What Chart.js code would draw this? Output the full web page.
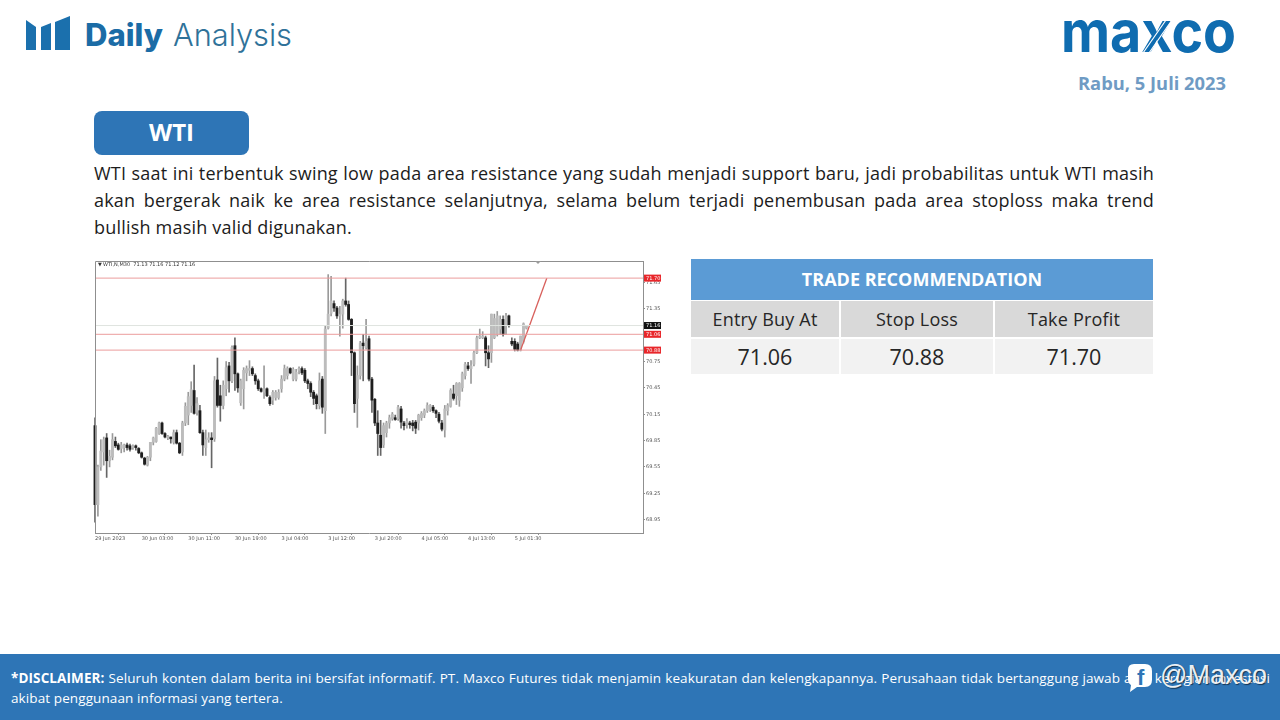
<!DOCTYPE html>
<html>
<head>
<meta charset="utf-8">
<title>Daily Analysis WTI</title>
<script src="https://cdn.jsdelivr.net/npm/chart.js@4"></script>
<style>
  html, body { margin: 0; padding: 0; background: #fff; }
  body { width: 1280px; height: 720px; position: relative; overflow: hidden; font-family: "Open Sans", sans-serif; }
  #logos { position: absolute; left: 0; top: 0; }
  #wtiBtn { position: absolute; left: 94px; top: 111px; width: 155px; height: 44px; border-radius: 8px; background: #2e75b6;
            color: #fff; font-weight: 700; font-size: 24px; line-height: 42px; text-align: center; }
  .line { position: absolute; left: 94px; width: 1060px; font-size: 18px; letter-spacing: 0.2px; line-height: 27px; color: #1c1c1c; white-space: nowrap; }
  .just { text-align: justify; text-align-last: justify; white-space: normal; }
  #chartBox { position: absolute; left: 93px; top: 257px; width: 577px; height: 288px; }
  .cell { position: absolute; text-align: center; color: #262626; }
  #footer { position: absolute; left: 0; top: 654px; width: 1280px; height: 66px; background: #2e75b6; color: #fff; }
  .foot { position: absolute; left: 11px; font-size: 13.5px; letter-spacing: 0.1px; line-height: 20px; white-space: nowrap; }
  #mark { position: absolute; left: 1160px; top: 658px; font-family: "Liberation Sans", sans-serif; font-size: 27px; line-height: 34px;
          color: rgba(255,255,255,0.92); text-shadow: 1px 1px 1px rgba(0,0,0,.55); }
</style>
</head>
<body>

<svg id="logos" width="1280" height="110">
  <!-- bar icon -->
  <polygon points="26,20 36,27 36,50 26,50" fill="#1b70ad"/>
  <polygon points="41,27 51,23 51,50 41,50" fill="#1b70ad"/>
  <polygon points="55,22 70,16 70,50 55,50" fill="#1b70ad"/>
  <text x="85" y="46" font-family="Inter" font-weight="800" font-size="31" fill="#1b6ca6" textLength="78" lengthAdjust="spacingAndGlyphs">Daily</text>
  <text x="173" y="46" font-family="Inter" font-weight="300" font-size="31" fill="#2f7299" textLength="119" lengthAdjust="spacingAndGlyphs">Analysis</text>
  <text x="1061" y="52" font-family="Inter" font-weight="700" font-size="57" fill="#0f6cb0" textLength="175" lengthAdjust="spacingAndGlyphs">maxco</text>
  <line x1="1143" y1="53" x2="1166" y2="20" stroke="#fff" stroke-width="1.2"/>
  <line x1="1149" y1="53" x2="1172" y2="20" stroke="#fff" stroke-width="1.2"/>
  <text x="1078" y="90" font-family="Open Sans" font-weight="700" font-size="18" fill="#6f9bc4" textLength="148" lengthAdjust="spacingAndGlyphs">Rabu, 5 Juli 2023</text>
</svg>

<div id="wtiBtn">WTI</div>

<div class="line just" style="top:160px">WTI saat ini terbentuk swing low pada area resistance yang sudah menjadi support baru, jadi probabilitas untuk WTI masih</div>
<div class="line just" style="top:187px">akan bergerak naik ke area resistance selanjutnya, selama belum terjadi penembusan pada area stoploss maka trend</div>
<div class="line" style="top:214px">bullish masih valid digunakan.</div>

<div id="chartBox"><canvas id="candleChart" width="577" height="288"></canvas></div>

<div class="cell" style="left:691px;top:259px;width:462px;height:41px;line-height:41px;background:#5b9bd5;color:#fff;font-weight:700;font-size:18px">TRADE RECOMMENDATION</div>
<div class="cell" style="left:691px;top:301px;width:148px;height:36px;line-height:36px;background:#d9d9d9;font-size:18px;letter-spacing:.2px">Entry Buy At</div>
<div class="cell" style="left:841px;top:301px;width:152px;height:36px;line-height:36px;background:#d9d9d9;font-size:18px;letter-spacing:.2px">Stop Loss</div>
<div class="cell" style="left:995px;top:301px;width:158px;height:36px;line-height:36px;background:#d9d9d9;font-size:18px;letter-spacing:.2px">Take Profit</div>
<div class="cell" style="left:691px;top:339px;width:148px;height:35px;line-height:35px;background:#f2f2f2;font-size:21.5px">71.06</div>
<div class="cell" style="left:841px;top:339px;width:152px;height:35px;line-height:35px;background:#f2f2f2;font-size:21.5px">70.88</div>
<div class="cell" style="left:995px;top:339px;width:158px;height:35px;line-height:35px;background:#f2f2f2;font-size:21.5px">71.70</div>

<div id="footer">
  <div class="foot just" style="top:14px;width:1259px"><b>*DISCLAIMER:</b> Seluruh konten dalam berita ini bersifat informatif. PT. Maxco Futures tidak menjamin keakuratan dan kelengkapannya. Perusahaan tidak bertanggung jawab atas kerugian investasi</div>
  <div class="foot" style="top:34px">akibat penggunaan informasi yang tertera.</div>
  <svg style="position:absolute;left:1126px;top:8px" width="28" height="32">
    <path d="M8 2 H19 Q26 2 26 9 V18 Q26 25 19 25 H11 L4 30 L5 23 Q2 21 2 17 V8 Q2 2 8 2 Z" fill="#fff"/>
    <text x="11" y="23" font-family="Liberation Sans" font-weight="700" font-size="22" fill="#2e75b6">f</text>
  </svg>
  <div id="mark" style="top:4px">@Maxco</div>
</div>

<script>
// tiap candle M30
const opens = [70.02,69.12,69.55,69.72,69.88,69.62,69.66,69.84,69.80,69.76,69.77,69.80,69.79,69.77,69.79,69.76,69.71,69.65,69.57,69.66,
  69.83,69.84,69.93,70.05,69.93,69.88,69.89,69.83,69.94,69.82,69.72,70.05,70.14,70.25,70.42,70.17,70.19,69.94,69.77,69.86,
  69.88,69.87,70.54,70.36,70.25,70.44,70.70,70.53,70.93,70.61,70.28,70.44,70.62,70.65,70.67,70.59,70.53,70.44,70.40,70.44,
  70.34,70.31,70.34,70.34,70.44,70.55,70.59,70.67,70.55,70.55,70.65,70.67,70.65,70.53,70.50,70.40,70.36,70.25,70.55,70.19,
  71.13,71.30,71.41,71.36,71.27,71.29,71.44,71.40,71.23,70.85,70.33,70.59,70.96,70.91,71.01,70.55,70.32,70.05,69.91,69.80,
  69.94,70.05,70.10,70.11,70.10,70.21,70.05,70.03,70.05,70.05,70.06,70.05,70.11,70.14,70.19,70.21,70.23,70.19,70.15,70.05,
  69.97,70.19,70.24,70.38,70.36,70.31,70.45,70.59,70.70,70.67,70.72,70.85,71.02,71.02,71.02,70.85,70.85,71.02,71.06,71.12,
  71.23,71.16,71.27,70.98,70.98,70.95,70.88,70.98,71.13];
const highs = [70.11,69.57,69.86,69.89,69.93,69.74,69.93,69.89,69.82,69.83,69.81,69.82,69.81,69.80,69.80,69.77,69.72,69.66,69.67,69.83,
  69.89,70.00,70.06,70.06,69.94,69.91,69.89,69.97,69.97,69.83,70.07,70.28,70.40,70.52,70.71,70.34,70.25,69.97,69.97,69.94,
  69.94,70.58,70.79,70.48,70.53,70.75,70.74,70.93,71.02,70.62,70.55,70.68,70.70,70.76,70.69,70.61,70.55,70.45,70.70,70.45,
  70.36,70.42,70.42,70.43,70.59,70.71,70.69,70.68,70.68,70.66,70.69,70.69,70.67,70.55,70.52,70.42,70.38,70.62,70.58,71.16,
  71.74,71.72,71.44,71.38,71.38,71.46,71.70,71.44,71.24,70.86,70.70,70.98,71.06,71.23,71.04,70.57,70.33,70.19,70.08,70.05,
  70.07,70.14,70.17,70.14,70.25,70.24,70.07,70.10,70.07,70.08,70.08,70.15,70.18,70.21,70.28,70.26,70.25,70.20,70.17,70.08,
  70.25,70.27,70.44,70.48,70.51,70.51,70.63,70.74,70.74,70.76,70.87,71.04,71.12,71.09,71.04,70.93,71.29,71.29,71.32,71.27,
  71.27,71.30,71.28,71.02,71.01,70.97,71.04,71.19,71.16];
const lows = [68.92,68.99,69.51,69.57,69.43,69.55,69.63,69.77,69.74,69.71,69.72,69.74,69.73,69.75,69.74,69.70,69.65,69.57,69.56,69.62,
  69.80,69.83,69.92,69.92,69.88,69.86,69.82,69.81,69.81,69.70,69.68,70.02,70.03,70.17,70.15,70.14,69.93,69.68,69.68,69.83,
  69.54,69.84,70.23,70.07,70.21,70.36,70.40,70.51,70.42,70.40,70.25,70.21,70.53,70.59,70.59,70.49,70.42,70.40,70.33,70.35,
  70.25,70.26,70.31,70.32,70.40,70.53,70.55,70.61,70.53,70.53,70.61,70.60,70.51,70.44,70.35,70.26,70.21,70.21,70.16,69.93,
  71.12,71.27,71.32,71.24,71.04,71.13,71.38,71.22,70.59,70.17,70.00,70.55,70.53,70.89,70.53,70.17,70.02,69.68,69.68,69.77,
  69.89,69.99,70.08,70.08,70.08,69.99,69.97,69.99,69.99,69.96,69.93,69.97,70.08,70.11,70.17,70.18,70.17,70.11,70.05,69.96,
  69.89,70.14,70.23,70.31,70.26,70.24,70.41,70.55,70.65,70.50,70.70,70.84,71.01,71.01,70.70,70.68,70.74,71.01,71.04,71.06,
  71.04,71.06,71.14,70.93,70.87,70.87,70.87,70.96,71.12];
const closes = [69.12,69.55,69.73,69.86,69.62,69.67,69.86,69.79,69.75,69.80,69.80,69.77,69.75,69.79,69.77,69.71,69.66,69.58,69.66,69.83,
  69.88,69.99,70.05,69.93,69.89,69.90,69.87,69.94,69.82,69.71,70.05,70.24,70.35,70.43,70.16,70.27,69.94,69.80,69.86,69.88,
  69.86,70.53,70.25,70.25,70.48,70.68,70.53,70.91,70.61,70.45,70.53,70.65,70.67,70.67,70.61,70.53,70.44,70.41,70.44,70.36,
  70.27,70.40,70.40,70.40,70.55,70.67,70.67,70.62,70.66,70.63,70.67,70.62,70.53,70.50,70.40,70.33,70.27,70.53,70.23,71.12,
  71.29,71.44,71.36,71.27,71.29,71.44,71.40,71.23,70.85,70.27,70.59,70.96,70.93,70.98,70.55,70.31,70.05,69.93,69.77,70.02,
  70.05,70.11,70.15,70.09,70.23,70.06,70.02,70.07,70.03,70.02,69.99,70.14,70.16,70.19,70.25,70.25,70.19,70.16,70.07,69.98,
  70.21,70.25,70.42,70.33,70.50,70.50,70.61,70.72,70.67,70.70,70.85,71.02,71.04,71.04,70.85,70.78,71.29,71.24,71.27,71.23,
  71.06,71.27,71.16,70.95,70.89,70.88,71.04,71.18,71.16];

const barCount = 189;                // termasuk ruang kosong di kanan grafik
const xTickIndex = [0,16,32,48,64,80,96,112,128,144];
const xTickText = ["29 Jun 2023","30 Jun 03:00","30 Jun 11:00","30 Jun 19:00","3 Jul 04:00","3 Jul 12:00","3 Jul 20:00","4 Jul 05:00","4 Jul 13:00","5 Jul 01:30"];
const yTicks = [68.95,69.25,69.55,69.85,70.15,70.45,70.75,71.05,71.35,71.65];

const takeProfit = 71.70;
const entryBuy = 71.06;
const stopLoss = 70.88;
const lastPrice = 71.16;
const trendFrom = 146;
const trendTo = 155;

const barLabels = [];
for (let i = 0; i < barCount; i++) barLabels.push(String(i));

const wickData = highs.map((h, i) => [lows[i], h]);
const bodyData = opens.map((o, i) => [o, closes[i]]);
const bodyColors = opens.map((o, i) => closes[i] >= o ? "#bcbcbc" : "#1e1e1e");
const wickColors = opens.map((o, i) => closes[i] >= o ? "#9a9a9a" : "#666666");

function hLine(value, color) {
    return {
        type: "line",
        data: [{ x: barLabels[0], y: value }, { x: barLabels[barCount - 1], y: value }],
        borderColor: color,
        borderWidth: 1,
        pointRadius: 0,
        order: 1
    };
}

// kotak harga di sumbu kanan, judul simbol dan bingkai
const chartExtras = {
    id: "chartExtras",
    afterDraw(chart) {
        const ctx = chart.ctx;
        const a = chart.chartArea;
        const y = chart.scales.y;
        ctx.save();
        ctx.strokeStyle = "#8f8f8f";
        ctx.lineWidth = 1;
        ctx.beginPath();
        ctx.moveTo(a.left + 0.5, a.bottom);
        ctx.lineTo(a.left + 0.5, a.top + 0.5);
        ctx.lineTo(a.right, a.top + 0.5);
        ctx.stroke();

        ctx.fillStyle = "#9a9a9a";
        ctx.beginPath();
        ctx.moveTo(a.left + 440, a.top);
        ctx.lineTo(a.left + 446, a.top);
        ctx.lineTo(a.left + 443, a.top + 3);
        ctx.fill();

        ctx.font = "5px 'DejaVu Sans'";
        ctx.textBaseline = "middle";
        ctx.fillStyle = "#333";
        ctx.fillText("▼", a.left + 3, a.top + 4);
        ctx.fillText("WTI,N,M30  71.13 71.16 71.12 71.16", a.left + 8, a.top + 4);

        [[takeProfit, "#e8262a"], [lastPrice, "#111111"], [entryBuy, "#e8262a"], [stopLoss, "#e8262a"]].forEach(tag => {
            const py = y.getPixelForValue(tag[0]);
            ctx.fillStyle = tag[1];
            ctx.fillRect(a.right + 1, py - 3.5, 17, 7);
            ctx.fillStyle = "#fff";
            ctx.fillText(tag[0].toFixed(2), a.right + 3, py + 0.5);
        });
        ctx.restore();
    }
};

new Chart(document.getElementById("candleChart"), {
    data: {
        labels: barLabels,
        datasets: [
            hLine(takeProfit, "#eb9c9c"),
            hLine(lastPrice, "#dfe4df"),
            hLine(entryBuy, "#eb9c9c"),
            hLine(stopLoss, "#eb9c9c"),
            {
                type: "line",
                data: [{ x: barLabels[trendFrom], y: stopLoss }, { x: barLabels[trendTo], y: takeProfit }],
                borderColor: "#d8605c",
                borderWidth: 1.4,
                pointRadius: 0,
                order: 1
            },
            { type: "bar", data: bodyData, backgroundColor: bodyColors, barThickness: 2.2, grouped: false, clip: false, order: 2 },
            { type: "bar", data: wickData, backgroundColor: wickColors, barThickness: 1, grouped: false, clip: false, order: 3 }
        ]
    },
    options: {
        responsive: false,
        animation: false,
        devicePixelRatio: 1,
        layout: { padding: { left: 2, top: 2, right: 0, bottom: 0 } },
        plugins: { legend: { display: false }, tooltip: { enabled: false } },
        scales: {
            x: {
                type: "category",
                offset: false,
                border: { color: "#8f8f8f" },
                grid: { drawOnChartArea: false, tickLength: 2, tickColor: "#8f8f8f" },
                afterFit: s => { s.height = 12; },
                ticks: {
                    autoSkip: false,
                    maxRotation: 0,
                    minRotation: 0,
                    align: "start",
                    padding: 1,
                    color: "#555",
                    font: { size: 5, family: "DejaVu Sans" },
                    callback: (v, i) => {
                        const k = xTickIndex.indexOf(i);
                        return k === -1 ? null : xTickText[k];
                    }
                }
            },
            y: {
                type: "linear",
                position: "right",
                min: 68.797,
                max: 71.895,
                border: { color: "#8f8f8f" },
                grid: { drawOnChartArea: false, tickLength: 2, tickColor: "#8f8f8f" },
                afterFit: s => { s.width = 27; },
                afterBuildTicks: s => { s.ticks = yTicks.map(v => ({ value: v })); },
                ticks: {
                    padding: 1,
                    color: "#555",
                    font: { size: 5, family: "DejaVu Sans" },
                    callback: v => v.toFixed(2)
                }
            }
        }
    },
    plugins: [chartExtras]
});
</script>
</body>
</html>
